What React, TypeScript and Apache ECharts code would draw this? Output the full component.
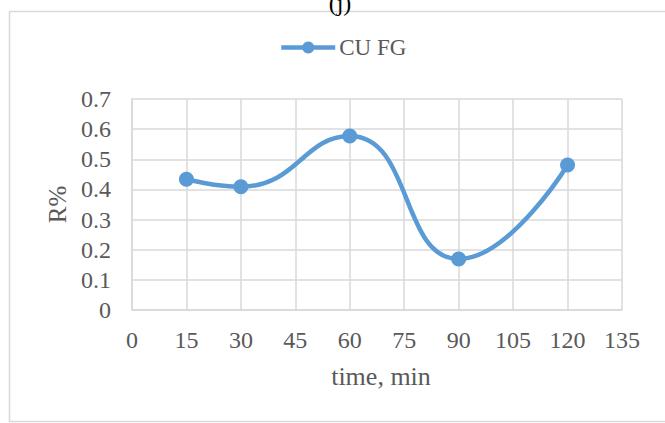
import React, { useEffect, useRef } from "react";
import * as echarts from "echarts";

const timeMin = [15, 30, 60, 90, 120];
const recovery = [0.434, 0.409, 0.577, 0.169, 0.481];
const seriesName = "CU FG";

const FONT = "'Liberation Serif', 'Times New Roman', serif";
const TEXT = "#595959";
const GRID = "#D9D9D9";
const BLUE = "#5B9BD5";

export default function App() {
  const ref = useRef<HTMLDivElement>(null);

  useEffect(() => {
    if (!ref.current) return;
    const chart = echarts.init(ref.current, undefined, { renderer: "svg" });
    chart.setOption({
      animation: false,
      backgroundColor: "#ffffff",
      textStyle: { fontFamily: FONT },
      graphic: [
        {
          type: "rect",
          shape: { x: 9.5, y: 11.5, width: 700, height: 410 },
          style: { fill: "none", stroke: GRID, lineWidth: 1.5 },
          silent: true,
        },
        {
          type: "text",
          style: {
            text: "(j)",
            x: 340,
            y: -9,
            textAlign: "center",
            textVerticalAlign: "top",
            font: `24px ${FONT}`,
            fill: "#000000",
          },
        },
      ],
      legend: {
        left: 279,
        top: 36,
        padding: 0,
        itemWidth: 54,
        itemHeight: 15,
        itemGap: 4,
        lineStyle: { width: 4.5 },
        textStyle: { fontFamily: FONT, fontSize: 23, color: TEXT, padding: [0, 0, 0, -1] },
        data: [seriesName],
      },
      grid: { left: 132, right: 43, top: 99, bottom: 113 },
      xAxis: {
        type: "value",
        min: 0,
        max: 135,
        interval: 15,
        name: "time, min",
        nameLocation: "middle",
        nameGap: 53,
        nameTextStyle: { fontFamily: FONT, fontSize: 26, color: TEXT, padding: [0, 0, 0, 8] },
        axisLine: { show: true, lineStyle: { color: GRID, width: 1.5 } },
        axisTick: { show: false },
        axisLabel: { fontFamily: FONT, fontSize: 24, color: TEXT, margin: 18 },
        splitLine: { show: true, lineStyle: { color: GRID, width: 1.5 } },
      },
      yAxis: {
        type: "value",
        min: 0,
        max: 0.7,
        interval: 0.1,
        name: "R%",
        nameLocation: "middle",
        nameGap: 60,
        nameTextStyle: { fontFamily: FONT, fontSize: 25, color: TEXT },
        axisLine: { show: true, lineStyle: { color: GRID, width: 1.5 } },
        axisTick: { show: false },
        axisLabel: {
          fontFamily: FONT,
          fontSize: 24,
          color: TEXT,
          margin: 21,
          formatter: (v: number) => (v === 0 ? "0" : v.toFixed(1)),
        },
        splitLine: { show: true, lineStyle: { color: GRID, width: 1.5 } },
      },
      series: [
        {
          name: seriesName,
          type: "line",
          data: timeMin.map((t, i) => [t, recovery[i]]),
          smooth: 0.5,
          symbol: "circle",
          symbolSize: 15,
          lineStyle: { color: BLUE, width: 4.5 },
          itemStyle: { color: BLUE },
        },
      ],
    });
    return () => chart.dispose();
  }, []);

  return (
    <div
      ref={ref}
      style={{ position: "fixed", left: 0, top: 0, width: 665, height: 423 }}
    />
  );
}
